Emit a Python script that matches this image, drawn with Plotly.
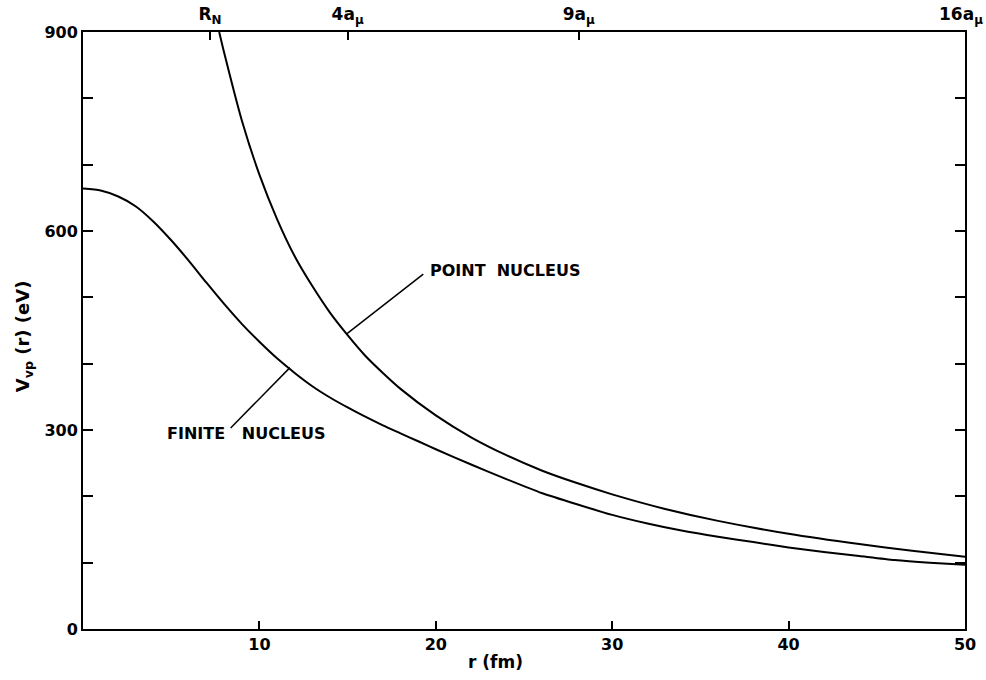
import plotly.graph_objects as go

# Data
r_point = [7.72, 8.0, 9.0, 10.0, 11.0, 12.0, 13.0, 14.0, 15.0, 16.0, 17.0, 18.0, 20.0, 22.0, 24.0, 26.0, 28.0, 30.0, 33.0, 36.0, 40.0, 44.0, 47.0, 50.0]
v_point = [900, 869, 767, 685, 618, 562, 517, 477, 443, 412, 386, 362, 322, 289, 262, 239, 220, 203, 181, 163, 143.5, 128, 118, 109]

r_finite = [0, 1, 2, 3, 4, 5, 6, 7, 8, 9, 10, 11, 12, 13, 14, 15, 16, 17, 18, 19, 20, 22, 24, 26, 28, 30, 32, 34, 36, 38, 40, 42, 44, 46, 48, 50]
v_finite = [664, 661, 652, 637, 614, 586, 555, 522, 490, 460, 433, 408, 386, 366, 349, 334, 320, 307, 295, 283, 271, 248, 226, 205, 188, 172, 159, 148, 139, 131, 123, 116, 110, 104, 100, 97]

x_ticks = [10, 20, 30, 40, 50]
y_ticks = [0, 300, 600, 900]
top_tick_pos = [7.2, 15.0, 28.1]
top_tick_text = ["R<sub>N</sub>", "4a<sub>μ</sub>", "9a<sub>μ</sub>"]
top_end_label = "16a<sub>μ</sub>"

FONT = "DejaVu Sans"
fw = dict(family=FONT, size=16, color="black", weight="bold")
ftop = dict(family=FONT, size=17, color="black", weight="bold")

fig = go.Figure()
fig.add_trace(go.Scatter(x=r_point, y=v_point, mode="lines", line=dict(color="black", width=2, shape="spline", smoothing=0.6), showlegend=False))
fig.add_trace(go.Scatter(x=r_finite, y=v_finite, mode="lines", line=dict(color="black", width=2, shape="spline", smoothing=0.6), showlegend=False))
# invisible trace for top axis
fig.add_trace(go.Scatter(x=[0, 50], y=[0, 0], xaxis="x2", mode="lines", line=dict(width=0), hoverinfo="skip", showlegend=False))

fig.update_layout(
    width=986, height=680,
    margin=dict(l=83, r=21, t=32, b=51),
    paper_bgcolor="white", plot_bgcolor="white",
    font=fw,
    xaxis=dict(range=[0, 50], tickvals=x_ticks, ticks="inside", ticklen=8, tickwidth=2, tickcolor="black",
               showline=True, linewidth=2, linecolor="black", showgrid=False, zeroline=False,
               tickfont=fw, automargin=False),
    xaxis2=dict(range=[0, 50], overlaying="x", side="top", tickvals=top_tick_pos, ticktext=top_tick_text,
                ticks="inside", ticklen=8, tickwidth=2, tickcolor="black", showline=True, linewidth=2,
                linecolor="black", showgrid=False, zeroline=False, automargin=False,
                ticklabelstandoff=3, tickfont=ftop),
    yaxis=dict(range=[0, 900], tickvals=y_ticks, ticks="inside", ticklen=10, tickwidth=2, tickcolor="black",
               showline=True, linewidth=2, linecolor="black", mirror="ticks", showgrid=False, zeroline=False,
               minor=dict(dtick=100, ticks="inside", ticklen=10, tickwidth=2, tickcolor="black"),
               tickfont=fw, automargin=False),
    annotations=[
        dict(x=1.0227, y=1.0, xref="paper", yref="paper", text=top_end_label, showarrow=False,
             xanchor="right", yanchor="bottom", yshift=3, font=ftop),
        dict(x=19.56, y=541, xref="x", yref="y", text="POINT  NUCLEUS", showarrow=False, xanchor="left", yanchor="middle",
             font=dict(family=FONT, size=16, color="black", weight="bold")),
        dict(x=4.65, y=295, xref="x", yref="y", text="FINITE   NUCLEUS", showarrow=False, xanchor="left", yanchor="middle",
             font=dict(family=FONT, size=16, color="black", weight="bold")),
        dict(x=0.468, y=-0.055, xref="paper", yref="paper", text="r (fm)", showarrow=False, xanchor="center", yanchor="middle",
             font=dict(family=FONT, size=17, color="black", weight="bold")),
        dict(x=-0.066, y=0.49, xref="paper", yref="paper", text="V<sub>vp</sub> (r) (eV)", showarrow=False, textangle=-90,
             xanchor="center", yanchor="middle", font=dict(family=FONT, size=18, color="black", weight="bold")),
    ],
    shapes=[
        dict(type="line", xref="x", yref="y", x0=19.29, y0=535, x1=14.95, y1=445, line=dict(color="black", width=1.5)),
        dict(type="line", xref="x", yref="y", x0=8.37, y0=303, x1=11.73, y1=394, line=dict(color="black", width=1.5)),
    ],
)

fig.write_html("out.html")
